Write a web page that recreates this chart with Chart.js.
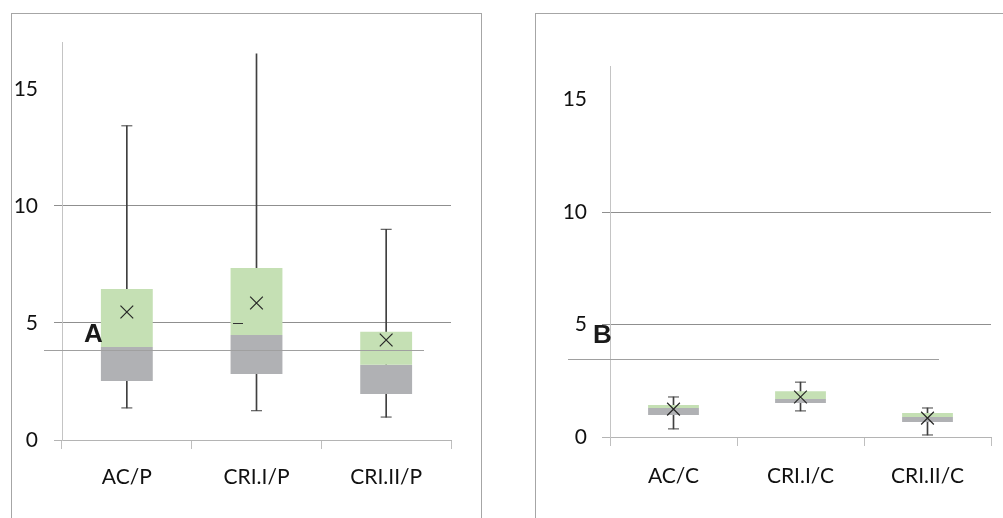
<!DOCTYPE html>
<html>
<head>
<meta charset="utf-8">
<script src="https://cdn.jsdelivr.net/npm/chart.js@4"></script>
<style>
  body { margin: 0; background: #fff; width: 1003px; height: 518px; overflow: hidden; position: relative; }
  .panel { position: absolute; top: 13px; height: 520px; border: 1px solid #a6a6a6; border-bottom: none; }
  canvas { position: absolute; top: 0; }
  .rule { position: absolute; height: 1px; background: #a0a0a0; }
  .tag { position: absolute; font: bold 26px "Liberation Sans", Arial, sans-serif; line-height: 26px; color: #1a1a1a; }
</style>
</head>
<body>
<div class="panel" style="left:11px; width:469px;"></div>
<div class="panel" style="left:535px; width:480px;"></div>
<canvas id="chartA" width="500" height="518" style="left:0px;"></canvas>
<canvas id="chartB" width="500" height="518" style="left:503px;"></canvas>
<div class="rule" style="left:44px; top:350px; width:380px;"></div>
<div class="rule" style="left:568px; top:359px; width:371px;"></div>
<div class="rule" style="left:233px; top:323px; width:10px; background:#333;"></div>
<div class="tag" style="left:84px; top:320px;">A</div>
<div class="tag" style="left:593px; top:321px;">B</div>
<script>
// ## PANEL A (P) ##
const labelsA = ["AC/P", "CRI.I/P", "CRI.II/P"];
const minA = [1.37, 1.25, 0.98];
const q1A = [2.52, 2.82, 1.96];
const medianA = [3.97, 4.49, 3.21];
const q3A = [6.45, 7.35, 4.62];
const maxA = [13.42, 16.5, 9.0];
const meanA = [5.47, 5.85, 4.27];

// ## PANEL B (C) ##
const labelsB = ["AC/C", "CRI.I/C", "CRI.II/C"];
const minB = [0.36, 1.16, 0.09];
const q1B = [0.98, 1.51, 0.67];
const medianB = [1.29, 1.69, 0.89];
const q3B = [1.42, 2.04, 1.07];
const maxB = [1.78, 2.44, 1.29];
const meanB = [1.24, 1.78, 0.84];

const yTicks = [0, 5, 10, 15];

const tickFont = { family: "Lato, 'Open Sans', sans-serif", size: 21 };
const whiskerColor = "#404040";

function createBoxChart(id, labels, mins, q1s, medians, q3s, maxs, means, cfg) {
  const ctx = document.getElementById(id).getContext("2d");
  return new Chart(ctx, {
    type: "bar",
    data: {
      labels: labels,
      datasets: [
        {
          label: "Mean",
          type: "line",
          data: means,
          showLine: false,
          pointStyle: "crossRot",
          pointRadius: 9,
          pointBorderWidth: 1.2,
          pointBorderColor: "#262626",
          pointBackgroundColor: "transparent",
          order: 0,
        },
        {
          label: "Max cap",
          type: "line",
          data: maxs,
          showLine: false,
          pointStyle: "line",
          pointRadius: cfg.topCapRadius,
          pointBorderWidth: 1,
          pointBorderColor: whiskerColor,
          order: 1,
        },
        {
          label: "Min cap",
          type: "line",
          data: mins,
          showLine: false,
          pointStyle: "line",
          pointRadius: 5.5,
          pointBorderWidth: 1,
          pointBorderColor: whiskerColor,
          order: 1,
        },
        {
          label: "Upper box",
          data: labels.map((_, i) => [medians[i], q3s[i]]),
          backgroundColor: "#c5e0b4",
          grouped: false,
          barPercentage: 0.4,
          categoryPercentage: 1,
          order: 2,
        },
        {
          label: "Lower box",
          data: labels.map((_, i) => [q1s[i], medians[i]]),
          backgroundColor: "#b0b1b4",
          grouped: false,
          barPercentage: 0.4,
          categoryPercentage: 1,
          order: 2,
        },
        {
          label: "Whisker",
          data: labels.map((_, i) => [mins[i], maxs[i]]),
          backgroundColor: whiskerColor,
          grouped: false,
          barThickness: 1,
          order: 3,
        },
      ],
    },
    options: {
      responsive: false,
      animation: false,
      events: [],
      layout: {
        padding: { left: 0, right: cfg.padRight, top: cfg.padTop, bottom: 0 },
      },
      plugins: {
        legend: { display: false },
        tooltip: { enabled: false },
      },
      scales: {
        x: {
          offset: true,
          grid: {
            offset: true,
            drawOnChartArea: false,
            tickLength: 9,
            color: "#bfbfbf",
          },
          border: { display: true, color: "#b4b4b4" },
          ticks: {
            font: tickFont,
            color: "#111",
            padding: cfg.xPad,
            maxRotation: 0,
          },
          afterFit: (axis) => {
            axis.height = cfg.xHeight;
          },
        },
        y: {
          min: 0,
          max: cfg.yMax,
          afterBuildTicks: (axis) => {
            axis.ticks = yTicks.map((v) => ({ value: v }));
          },
          grid: {
            tickLength: 8,
            color: (c) =>
              c.tick.value === 15 ? "transparent" : c.tick.value === 0 ? "#b4b4b4" : "#8f8f8f",
          },
          border: { display: true, color: "#c4c4c4" },
          ticks: {
            font: tickFont,
            color: "#111",
            padding: cfg.yPad,
          },
          afterFit: (axis) => {
            axis.width = cfg.yWidth;
          },
        },
      },
    },
  });
}

createBoxChart("chartA", labelsA, minA, q1A, medianA, q3A, maxA, meanA, {
  yMax: 17,
  padRight: 49,
  padTop: 42,
  yWidth: 62,
  xHeight: 78,
  xPad: 16,
  yPad: 16,
  topCapRadius: [5.5, 0, 5.5],
});

createBoxChart("chartB", labelsB, minB, q1B, medianB, q3B, maxB, meanB, {
  yMax: 16.5,
  padRight: 12,
  padTop: 66,
  yWidth: 107,
  xHeight: 81,
  xPad: 18,
  yPad: 15,
  topCapRadius: 5.5,
});
</script>
</body>
</html>
